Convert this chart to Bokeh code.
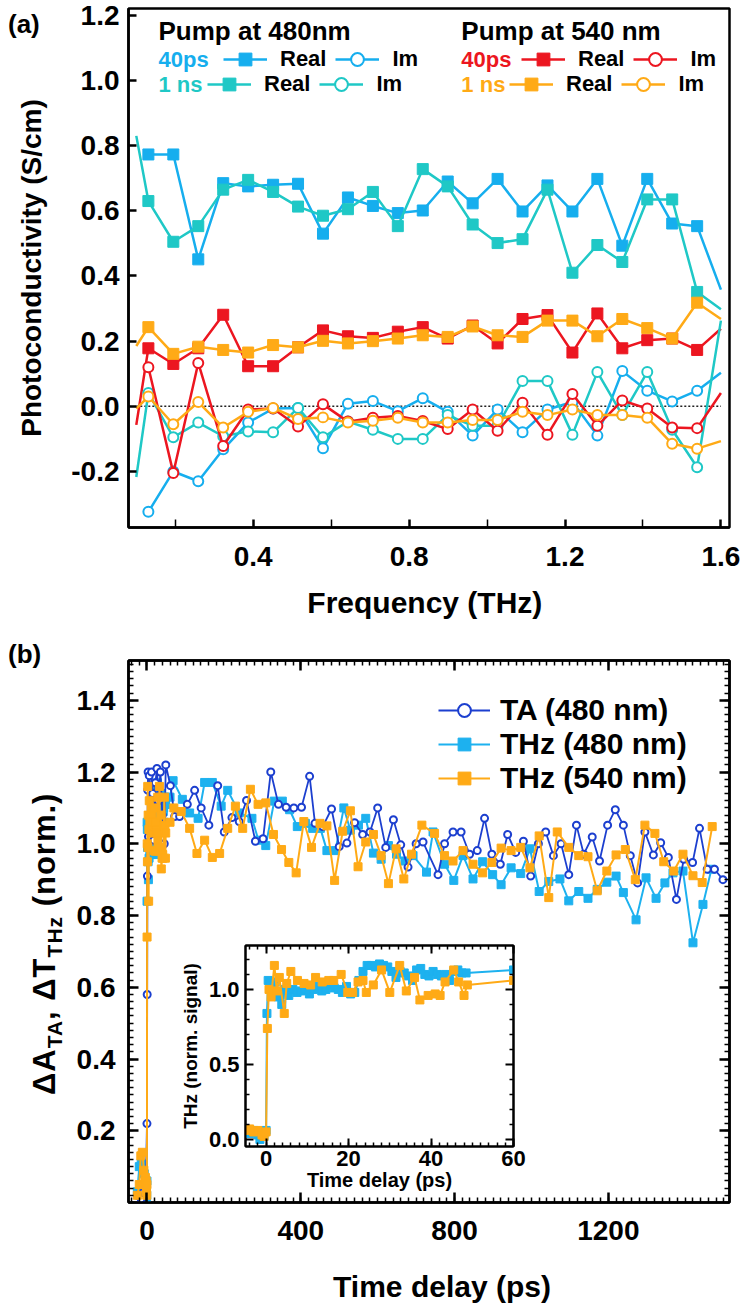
from bokeh.plotting import figure
from bokeh.models import (Range1d, FixedTicker, Label, Legend, LegendItem, LinearAxis,
                          PrintfTickFormatter, Div)
from bokeh.layouts import column
from bokeh.embed import file_html
from bokeh.resources import INLINE

FONT = "Liberation Sans"

# ---------------- panel (a) data ----------------
freq_thz = [0.131, 0.195, 0.259, 0.323, 0.387, 0.451, 0.515, 0.579, 0.643, 0.707, 0.771, 0.835,
            0.899, 0.963, 1.027, 1.091, 1.155, 1.219, 1.283, 1.347, 1.411, 1.475, 1.539]
freq_start = 0.10
freq_end = 1.60

real_480_40ps = [0.773, 0.773, 0.451, 0.685, 0.675, 0.680, 0.683, 0.530, 0.641, 0.615, 0.593, 0.601,
                 0.690, 0.623, 0.698, 0.598, 0.678, 0.598, 0.698, 0.493, 0.698, 0.561, 0.553]
real_480_40ps_ends = (None, 0.358)
im_480_40ps = [-0.324, -0.200, -0.230, -0.132, -0.050, -0.007, -0.005, -0.129, 0.008, 0.016, -0.015, 0.025,
               -0.017, -0.090, -0.010, -0.080, -0.010, 0.013, -0.090, 0.108, 0.048, 0.015, 0.048]
im_480_40ps_ends = (None, 0.103)

real_480_1ns = [0.630, 0.505, 0.553, 0.665, 0.695, 0.658, 0.613, 0.585, 0.605, 0.658, 0.553, 0.728,
                0.675, 0.558, 0.501, 0.513, 0.665, 0.410, 0.495, 0.443, 0.635, 0.635, 0.351]
real_480_1ns_ends = (0.830, 0.298)
im_480_1ns = [0.041, -0.095, -0.050, -0.092, -0.077, -0.080, -0.005, -0.095, -0.047, -0.072, -0.100, -0.100,
              -0.027, -0.060, -0.060, 0.078, 0.078, -0.087, 0.105, -0.027, 0.105, -0.072, -0.187]
im_480_1ns_ends = (-0.217, 0.263)

real_540_40ps = [0.178, 0.130, 0.178, 0.281, 0.123, 0.123, 0.181, 0.233, 0.215, 0.210, 0.229, 0.243,
                 0.208, 0.248, 0.193, 0.268, 0.280, 0.165, 0.285, 0.178, 0.203, 0.208, 0.173]
real_540_40ps_ends = (-0.057, 0.238)
im_540_40ps = [0.120, -0.205, 0.133, -0.122, -0.010, -0.007, -0.062, 0.006, -0.047, -0.035, -0.030, -0.045,
               -0.070, -0.010, -0.075, 0.011, -0.087, 0.038, -0.060, 0.018, -0.007, -0.065, -0.067]
im_540_40ps_ends = (None, 0.041)

real_540_1ns = [0.243, 0.161, 0.183, 0.173, 0.165, 0.188, 0.181, 0.201, 0.193, 0.200, 0.208, 0.218,
                0.213, 0.245, 0.218, 0.213, 0.263, 0.263, 0.215, 0.268, 0.240, 0.208, 0.318]
real_540_1ns_ends = (0.185, 0.268)
im_540_1ns = [0.030, -0.055, 0.013, -0.065, -0.017, -0.005, -0.039, -0.034, -0.050, -0.044, -0.035, -0.050,
              -0.050, -0.042, -0.042, -0.017, -0.027, -0.010, -0.027, -0.027, -0.035, -0.115, -0.130]
im_540_1ns_ends = (-0.007, -0.107)

a_x_ticks = [0.4, 0.8, 1.2, 1.6]
a_x_minor = [0.2, 0.6, 1.0, 1.4]
a_y_ticks = [-0.2, 0.0, 0.2, 0.4, 0.6, 0.8, 1.0, 1.2]

# ---------------- panel (b) data ----------------
ta_t = [-25, -15, -8, -3, 0, 0.6, 1.2, 2, 3, 4, 6, 8, 10, 12, 15, 18, 22, 26, 30, 35, 40, 45, 49,
        61, 72, 85, 105, 124, 141, 161, 184, 201, 221, 240, 259, 282, 302, 322, 342, 362, 382, 402,
        423, 437, 457, 480, 500, 520, 540, 561, 580, 600, 621, 641, 660, 679, 700, 718, 757, 774,
        796, 817, 839, 859, 878, 897, 919, 938, 959, 979, 998, 1018, 1037, 1057, 1077, 1097, 1117,
        1136, 1158, 1177, 1198, 1218, 1239, 1257, 1276, 1295, 1317, 1336, 1356, 1377, 1396, 1419,
        1437, 1457, 1476, 1498]
ta_v = [0.02, 0.01, 0.03, 0.04, 0.22, 0.58, 0.91, 1.15, 1.20, 1.02, 1.19, 1.12, 1.05, 1.20, 1.14, 1.01,
        1.17, 1.21, 1.12, 1.20, 1.08, 1.00, 1.22,
        1.162, 1.076, 1.076, 1.110, 1.149, 1.100, 1.052, 1.162, 1.033, 1.073, 1.062, 1.121, 1.007,
        1.014, 1.200, 1.110, 1.102, 1.100, 1.102, 1.188, 1.057, 1.048, 1.097, 0.992, 1.002, 1.059,
        1.026, 1.033, 1.100, 0.990, 1.067, 0.997, 0.935, 1.000, 1.005, 0.914, 1.000, 1.033, 1.033,
        0.971, 0.981, 1.071, 0.971, 0.943, 1.026, 0.976, 1.007, 0.910, 1.000, 1.033, 0.967, 1.000,
        0.914, 1.052, 0.971, 1.019, 0.952, 1.052, 1.095, 1.052, 0.967, 0.891, 1.033, 0.969, 1.003,
        0.962, 0.845, 0.957, 0.948, 1.043, 0.929, 0.929, 0.900]

# early THz traces (shown in inset and main panel)
inset480_t = [-5, -4, -3, -2, -1.5, -1, -0.5, 0, 0.2, 0.5, 1, 1.5, 2.2, 3, 3.8, 4.6, 5.5, 6.5, 7.5,
              8.5, 9.5, 10.5, 11.5, 12.5, 13.5, 14.5, 15.5, 16.5, 17.5, 18.5, 19.5, 20.5, 21.5, 22.5,
              23.5, 24.5, 25.5, 26.5, 27.5, 28.5, 29.5, 30.5, 31.5, 32.5, 33.5, 34.5, 35.5, 36.5, 37.5,
              38.5, 39.5, 40.5, 41.5, 42.5, 43.5, 44.5, 45.5, 46.5, 47.5, 48.5, 60]
inset480_v = [0.05, 0.04, 0.06, 0.03, 0.00, 0.05, 0.02, 0.06, 0.84, 1.06, 1.04, 0.99, 1.05, 0.95, 0.90,
              1.00, 0.96, 1.00, 0.98, 0.99, 1.00, 0.97, 1.00, 1.02, 0.99, 1.00, 1.03, 1.01, 1.00, 0.98,
              1.02, 0.97, 0.98, 1.06, 1.12, 1.16, 1.16, 1.15, 1.17, 1.16, 1.15, 1.12, 1.08, 1.12, 1.11,
              1.09, 1.06, 1.13, 1.14, 1.10, 1.09, 1.12, 1.10, 1.09, 1.10, 1.06, 1.12, 1.13, 1.11, 1.11,
              1.13]
inset540_t = [-5, -4, -3, -2, -1, -0.5, 0, 0.3, 0.7, 1.2, 2, 2.6, 3.2, 4.4, 5, 6, 7.6, 9.2, 10.8, 12,
              13.6, 15.2, 16.4, 18.2, 19.8, 21, 22.3, 23.5, 24.3, 26, 28, 30, 32.4, 34, 36, 37.3, 39.3,
              41, 42.2, 43.4, 45.5, 46.7, 48, 48.8, 60]
inset540_v = [0.06, 0.07, 0.05, 0.06, 0.03, 0.02, 0.05, 0.74, 1.00, 0.95, 1.16, 0.99, 1.08, 0.84, 1.04,
              1.12, 1.06, 1.04, 1.03, 1.08, 1.05, 1.06, 1.06, 1.10, 0.98, 0.98, 1.05, 1.06, 0.98, 1.03,
              1.13, 0.98, 1.16, 0.99, 1.08, 0.93, 0.96, 0.97, 0.96, 1.05, 1.13, 1.05, 0.96, 1.03, 1.06]

thz480_pre_t = [-25, -20, -15, -10, -7]
thz480_pre_v = [0.03, 0.10, 0.11, 0.04, 0.08]
thz480_late_t = [68, 92, 111, 133, 150, 170, 193, 210, 240, 273, 290, 309, 331, 352, 371, 391, 412,
                 431, 451, 468, 490, 512, 529, 550, 569, 589, 609, 628, 649, 671, 692, 727, 744, 774,
                 798, 822, 848, 873, 899, 921, 947, 972, 996, 1020, 1045, 1074, 1097, 1123, 1147, 1171,
                 1196, 1220, 1239, 1272, 1298, 1324, 1347, 1368, 1394, 1420, 1446, 1468]
thz480_late_v = [1.176, 1.124, 1.086, 1.071, 1.171, 1.171, 1.105, 1.149, 1.086, 1.071, 1.010, 0.995,
                 1.119, 1.119, 1.095, 1.048, 1.057, 1.043, 1.043, 0.981, 0.981, 1.100, 1.038, 1.052,
                 1.071, 0.974, 0.957, 0.995, 0.971, 0.952, 0.967, 0.921, 1.033, 0.943, 0.898, 0.967,
                 0.902, 0.950, 0.914, 0.886, 0.933, 0.917, 0.986, 0.867, 0.895, 0.902, 0.841, 0.867,
                 0.848, 0.873, 0.893, 0.910, 0.864, 0.788, 0.905, 0.848, 0.891, 0.919, 0.924, 0.724,
                 0.831, 0.929]

thz540_pre_t = [-25, -20, -16, -12, -8]
thz540_pre_v = [0.02, 0.05, 0.13, 0.14, 0.09]
thz540_late_t = [70, 89, 111, 130, 150, 170, 189, 210, 230, 249, 269, 289, 309, 329, 350, 369, 388,
                 408, 428, 450, 468, 488, 509, 529, 549, 569, 589, 609, 628, 648, 668, 688, 715, 748,
                 774, 796, 822, 848, 873, 897, 921, 947, 972, 996, 1020, 1045, 1067, 1097, 1123, 1147,
                 1171, 1196, 1220, 1244, 1270, 1295, 1321, 1344, 1370, 1394, 1420, 1444, 1470]
thz540_late_v = [1.100, 1.090, 1.043, 0.973, 1.010, 0.962, 0.973, 1.043, 1.105, 1.043, 1.152, 1.110,
                 1.114, 1.026, 0.984, 0.948, 0.919, 1.062, 0.990, 1.057, 1.050, 0.898, 1.035, 1.092,
                 0.936, 1.005, 1.026, 0.967, 0.889, 0.986, 0.902, 0.971, 1.052, 1.029, 0.967, 0.952,
                 0.981, 0.943, 0.919, 0.948, 0.988, 0.981, 0.990, 0.933, 1.022, 0.850, 1.033, 0.990,
                 0.967, 0.964, 0.869, 0.924, 0.969, 0.984, 0.900, 1.052, 1.029, 0.950, 0.924, 0.971,
                 0.911, 0.892, 1.048]

b_x_ticks = [0, 400, 800, 1200]
b_x_minor = list(range(-40, 1520, 20))
b_y_ticks = [0.2, 0.4, 0.6, 0.8, 1.0, 1.2, 1.4]
b_y_minor = [round(0.02 * i, 2) for i in range(0, 76)]
in_x_ticks = [0, 20, 40, 60]
in_x_minor = list(range(-4, 61, 2))
in_y_ticks = [0.0, 0.5, 1.0]
in_y_minor = [0.1, 0.2, 0.3, 0.4, 0.6, 0.7, 0.8, 0.9, 1.1, 1.2]

C_480_40 = "#16AEEE"
C_480_1N = "#1FC8C6"
C_540_40 = "#EC1620"
C_540_1N = "#FFAA16"
C_TA = "#1C3FCF"
C_T480 = "#1DB1EF"
C_T540 = "#FFAA16"


def style_axis(ax, tick_size, title_size, tick_len, minor_len, label_standoff, title_standoff, lw=2.5):
    ax.axis_line_color = "black"
    ax.axis_line_width = lw
    ax.major_tick_in = tick_len
    ax.major_tick_out = 0
    ax.minor_tick_in = minor_len
    ax.minor_tick_out = 0
    ax.major_tick_line_width = lw
    ax.minor_tick_line_width = 1.5
    ax.major_tick_line_color = "black"
    ax.minor_tick_line_color = "black"
    ax.major_label_text_font = FONT
    ax.major_label_text_font_style = "bold"
    ax.major_label_text_font_size = f"{tick_size}px"
    ax.major_label_text_color = "black"
    ax.major_label_standoff = label_standoff
    ax.axis_label_text_font = FONT
    ax.axis_label_text_font_style = "bold"
    ax.axis_label_text_font_size = f"{title_size}px"
    ax.axis_label_text_color = "black"
    ax.axis_label_standoff = title_standoff


def mirror_axis(p, ticker, side, tick_len, minor_len, lw=2.5):
    ax = LinearAxis(ticker=ticker)
    ax.axis_line_color = "black"
    ax.axis_line_width = lw
    ax.major_tick_in = tick_len
    ax.major_tick_out = 0
    ax.minor_tick_in = minor_len
    ax.minor_tick_out = 0
    ax.major_tick_line_width = lw
    ax.minor_tick_line_width = 1.5
    ax.major_label_text_font_size = "0px"
    ax.major_label_text_color = None
    ax.major_label_standoff = 0
    p.add_layout(ax, side)


def data_label(p, x, y, text, size, color="black"):
    p.add_layout(Label(x=x, y=y, text=text, text_font=FONT, text_font_style="bold",
                       text_font_size=f"{size}px", text_color=color, text_align="left",
                       text_baseline="middle"))


# ================= panel (a) =================
pa = figure(width=740, height=635, x_range=Range1d(0.08, 1.622), y_range=Range1d(-0.372, 1.221),
            output_backend="svg", toolbar_location=None,
            min_border_left=128, min_border_right=11, min_border_top=8, min_border_bottom=108)
pa.grid.visible = False
pa.outline_line_color = "black"
pa.outline_line_width = 2.5
pa.outline_line_alpha = 1.0
pa.xaxis.ticker = FixedTicker(ticks=a_x_ticks, minor_ticks=a_x_minor)
pa.yaxis.ticker = FixedTicker(ticks=a_y_ticks, minor_ticks=[])
pa.xaxis.formatter = PrintfTickFormatter(format="%.1f")
pa.yaxis.formatter = PrintfTickFormatter(format="%.1f")
style_axis(pa.xaxis[0], 28, 30, 8, 8, 19, 17)
style_axis(pa.yaxis[0], 28, 28, 8, 0, 9, 21)
pa.xaxis.axis_label = "Frequency  (THz)"
pa.yaxis.axis_label = "Photoconductivity (S/cm)"

pa.line([freq_start, freq_end], [0, 0], line_color="#222222", line_width=1.5, line_dash="2 2")


def series_a(vals, ends, color, kind):
    start, end = ends
    xs = ([freq_start] if start is not None else []) + freq_thz + [freq_end]
    ys = ([start] if start is not None else []) + vals + [end]
    ln = pa.line(xs, ys, line_color=color, line_width=2.5)
    if kind == "real":
        mk = pa.scatter(freq_thz, vals, marker="square", size=11, fill_color=color, line_color=color)
    else:
        mk = pa.scatter(freq_thz, vals, marker="circle", size=10, fill_color="white",
                        line_color=color, line_width=2)
    return ln, mk


r1 = series_a(real_480_40ps, real_480_40ps_ends, C_480_40, "real")
r2 = series_a(real_480_1ns, real_480_1ns_ends, C_480_1N, "real")
r3 = series_a(real_540_40ps, real_540_40ps_ends, C_540_40, "real")
r4 = series_a(real_540_1ns, real_540_1ns_ends, C_540_1N, "real")
i1 = series_a(im_480_40ps, im_480_40ps_ends, C_480_40, "im")
i2 = series_a(im_480_1ns, im_480_1ns_ends, C_480_1N, "im")
i3 = series_a(im_540_40ps, im_540_40ps_ends, C_540_40, "im")
i4 = series_a(im_540_1ns, im_540_1ns_ends, C_540_1N, "im")


def row_legend(rr, ii, vx, vy):
    lg = Legend(items=[LegendItem(label="Real", renderers=list(rr)),
                       LegendItem(label="Im", renderers=list(ii))],
                orientation="horizontal", location=(vx, vy),
                label_text_font=FONT, label_text_font_style="bold", label_text_font_size="22px",
                label_text_color="black", glyph_width=44, glyph_height=32, label_height=20,
                label_standoff=13, spacing=9, padding=0, margin=0,
                background_fill_alpha=0, border_line_alpha=0)
    pa.add_layout(lg)


row_legend(r1, i1, 95, 452)
row_legend(r2, i2, 79, 427)
row_legend(r3, i3, 393, 452)
row_legend(r4, i4, 381, 427)

data_label(pa, 0.157, 1.152, "Pump at 480nm", 26)
data_label(pa, 0.934, 1.152, "Pump at 540 nm", 26)
data_label(pa, 0.157, 1.064, "40ps", 22, C_480_40)
data_label(pa, 0.157, 0.987, "1 ns", 22, C_480_1N)
data_label(pa, 0.934, 1.064, "40ps", 22, C_540_40)
data_label(pa, 0.934, 0.987, "1 ns", 22, C_540_1N)

# ================= panel (b) =================
pb = figure(width=740, height=655, x_range=Range1d(-48, 1515), y_range=Range1d(0, 1.511),
            output_backend="svg", toolbar_location=None,
            min_border_left=127, min_border_right=8, min_border_top=25, min_border_bottom=88)
pb.grid.visible = False
pb.outline_line_color = "black"
pb.outline_line_width = 2.5
pb.outline_line_alpha = 1.0
bx_ticker = FixedTicker(ticks=b_x_ticks, minor_ticks=b_x_minor)
by_ticker = FixedTicker(ticks=b_y_ticks, minor_ticks=b_y_minor)
pb.xaxis.ticker = bx_ticker
pb.yaxis.ticker = by_ticker
pb.yaxis.formatter = PrintfTickFormatter(format="%.1f")
style_axis(pb.xaxis[0], 28, 28, 10, 5, 18, 5)
style_axis(pb.yaxis[0], 28, 28, 10, 5, 13, 5)
mirror_axis(pb, bx_ticker, "above", 10, 5)
mirror_axis(pb, by_ticker, "right", 10, 5)

thz480_t = thz480_pre_t + inset480_t + thz480_late_t
thz480_v = thz480_pre_v + inset480_v + thz480_late_v
thz540_t = thz540_pre_t + inset540_t + thz540_late_t
thz540_v = thz540_pre_v + inset540_v + thz540_late_v

l480 = pb.line(thz480_t, thz480_v, line_color=C_T480, line_width=2)
m480 = pb.scatter(thz480_t, thz480_v, marker="square", size=8, fill_color=C_T480, line_color=C_T480)
lta = pb.line(ta_t, ta_v, line_color=C_TA, line_width=1.8)
mta = pb.scatter(ta_t, ta_v, marker="circle", size=7, fill_color="white", line_color=C_TA, line_width=2)
l540 = pb.line(thz540_t, thz540_v, line_color=C_T540, line_width=2)
m540 = pb.scatter(thz540_t, thz540_v, marker="square", size=8, fill_color=C_T540, line_color=C_T540)

legb = Legend(items=[LegendItem(label="TA (480 nm)", renderers=[lta, mta]),
                     LegendItem(label="THz (480 nm)", renderers=[l480, m480]),
                     LegendItem(label="THz (540 nm)", renderers=[l540, m540])],
              location=(310, 407), label_text_font=FONT, label_text_font_style="bold",
              label_text_font_size="30px", label_text_color="black", glyph_width=52, glyph_height=32,
              label_height=20, label_standoff=10, spacing=0, padding=0, margin=0,
              background_fill_alpha=0, border_line_alpha=0)
pb.add_layout(legb)

# ================= inset =================
pi = figure(width=352, height=261, x_range=Range1d(-5, 60), y_range=Range1d(-0.047, 1.293),
            output_backend="svg", toolbar_location=None,
            min_border_left=70, min_border_right=14, min_border_top=5, min_border_bottom=55)
pi.grid.visible = False
pi.border_fill_color = None
pi.background_fill_color = "white"
pi.outline_line_color = "black"
pi.outline_line_width = 2
pi.outline_line_alpha = 1.0
ix_ticker = FixedTicker(ticks=in_x_ticks, minor_ticks=in_x_minor)
iy_ticker = FixedTicker(ticks=in_y_ticks, minor_ticks=in_y_minor)
pi.xaxis.ticker = ix_ticker
pi.yaxis.ticker = iy_ticker
pi.yaxis.formatter = PrintfTickFormatter(format="%.1f")
style_axis(pi.xaxis[0], 22, 20, 8, 4, 4, 0, lw=2)
style_axis(pi.yaxis[0], 22, 19, 8, 4, 6, 5, lw=2)
pi.xaxis.axis_label = "Time delay (ps)"
pi.yaxis.axis_label = "THz (norm. signal)"
mirror_axis(pi, ix_ticker, "above", 8, 4, lw=2)
mirror_axis(pi, iy_ticker, "right", 8, 4, lw=2)
pi.line(inset480_t, inset480_v, line_color=C_T480, line_width=2)
pi.scatter(inset480_t, inset480_v, marker="square", size=8, fill_color=C_T480, line_color=C_T480)
pi.line(inset540_t, inset540_v, line_color=C_T540, line_width=2)
pi.scatter(inset540_t, inset540_v, marker="square", size=8, fill_color=C_T540, line_color=C_T540)
pi.styles = {"position": "absolute", "left": "175px", "top": "940px", "z-index": "10"}

# ================= panel tags and the titles of (b) =================
TXT = "font-family:'Liberation Sans';font-weight:bold;color:black;white-space:nowrap;margin:0;padding:0;"


def text_div(inner, w, h, styles):
    st = {"position": "absolute", "z-index": "11", "width": f"{w}px", "height": f"{h}px"}
    st.update(styles)
    return Div(text=inner, width=w, height=h, styles=st)


div_a = text_div(f"<div style=\"{TXT}font-size:26px;line-height:30px;\">(a)</div>", 44, 30,
                 {"left": "3px", "top": "4px"})
div_b = text_div(f"<div style=\"{TXT}font-size:26px;line-height:30px;\">(b)</div>", 44, 30,
                 {"left": "3px", "top": "634px"})
SUB = "font-size:21px;vertical-align:-7px;"
ytitle_b = ("\u0394A<span style=\"" + SUB + "\">TA</span>, \u0394T<span style=\"" + SUB +
            "\">THz</span> (norm.)")
div_y = text_div(f"<div style=\"{TXT}font-size:31px;line-height:40px;letter-spacing:1px;"
                 f"text-align:left;\">{ytitle_b}</div>", 310, 40,
                 {"left": "20px", "top": "1090px", "transform": "rotate(-90deg)",
                  "transform-origin": "0px 0px"})
div_x = text_div(f"<div style=\"{TXT}font-size:30px;line-height:40px;text-align:center;"
                 f"width:300px;\">Time delay (ps)</div>", 300, 40,
                 {"left": "287px", "top": "1262px"})

layout = column(pa, pb)
html = file_html([layout, pi, div_a, div_b, div_y, div_x], INLINE, title="photoconductivity")
open("out.html", "w").write(html)
